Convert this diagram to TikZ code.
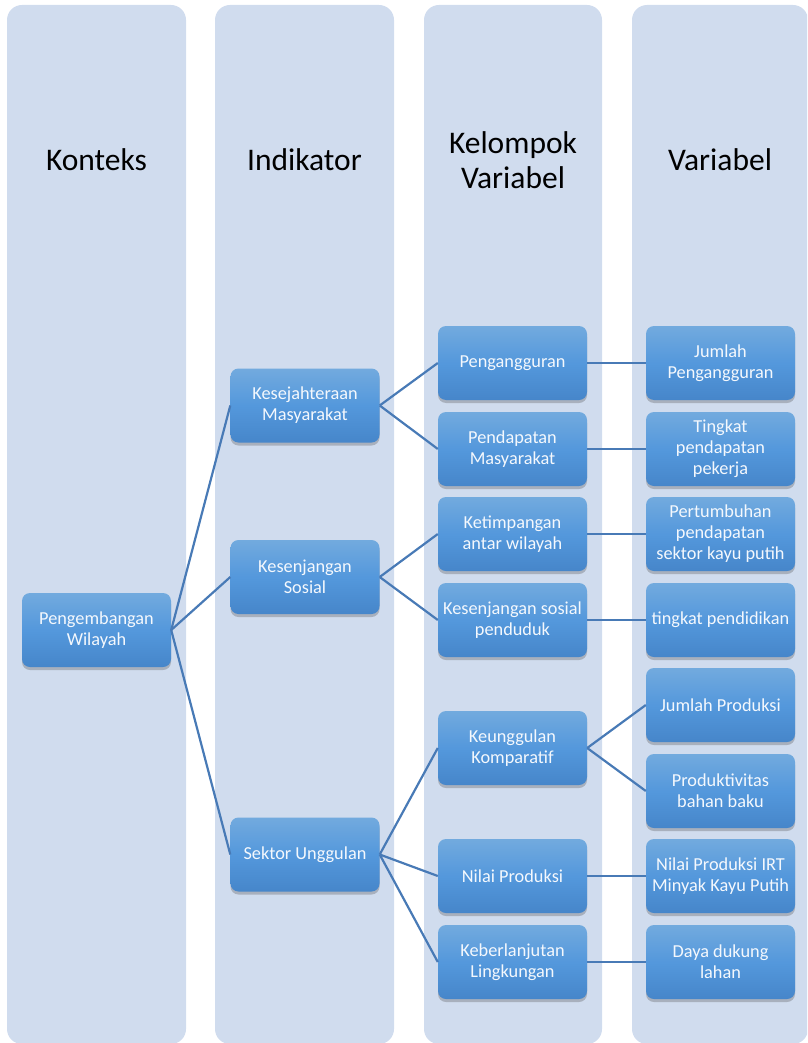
\documentclass[tikz,border=0pt]{standalone}
\usepackage{fontspec}
\setmainfont{Carlito}
\usetikzlibrary{shadows}
\definecolor{lanebg}{RGB}{208,220,238}
\definecolor{boxtop}{RGB}{114,170,222}
\definecolor{boxmid}{RGB}{84,152,220}
\definecolor{boxbot}{RGB}{70,134,202}
\definecolor{linkcol}{RGB}{72,122,182}
\definecolor{boxtext}{RGB}{244,248,253}
\tikzset{
  lane/.style={fill=lanebg, draw=none, rounded corners=15pt},
  head/.style={font=\fontsize{31.5}{35}\selectfont, text=black, align=center},
  item/.style={rectangle, rounded corners=8pt, minimum width=149pt, minimum height=74pt,
    inner sep=1pt, top color=boxtop, bottom color=boxbot, middle color=boxmid,
    text=boxtext, align=center, font=\fontsize{18.3}{21}\selectfont,
    drop shadow={shadow xshift=0pt, shadow yshift=-3pt, opacity=0.3, fill=black!70}},
  link/.style={draw=linkcol, line width=2.2pt}
}
\begin{document}
\begin{tikzpicture}[x=1pt,y=-1pt]
\useasboundingbox (0,0) rectangle (807,1043);
% lanes
\begin{scope}
\clip (0,0) rectangle (807,1043);
\fill[lane] (7,5) rectangle (186,1044);
\fill[lane] (215,5) rectangle (394,1044);
\fill[lane] (424,5) rectangle (602,1044);
\fill[lane] (632,5) rectangle (808,1044);
\end{scope}
% headings
\node[head] (h1) at (96.5,160) {Konteks};
\node[head] (h2) at (304.5,160) {Indikator};
\node[head] (h3) at (513,160) {Kelompok\\Variabel};
\node[head] (h4) at (720,160) {Variabel};
% context
\node[item] (pw) at (96.5,630) {Pengembangan\\Wilayah};
% indicators
\node[item] (km) at (305,405.5) {Kesejahteraan\\Masyarakat};
\node[item] (ks) at (305,577) {Kesenjangan\\Sosial};
\node[item] (su) at (305,854.5) {Sektor Unggulan};
% variable groups
\node[item] (pg) at (512.5,363) {Pengangguran};
\node[item] (pm) at (512.5,449) {Pendapatan\\Masyarakat};
\node[item] (ka) at (512.5,534) {Ketimpangan\\antar wilayah};
\node[item] (kp) at (512.5,620) {Kesenjangan sosial\\penduduk};
\node[item] (kk) at (512.5,748) {Keunggulan\\Komparatif};
\node[item] (np) at (512.5,876) {Nilai Produksi};
\node[item] (kl) at (512.5,962) {Keberlanjutan\\Lingkungan};
% variables
\node[item] (jp) at (720.5,363) {Jumlah\\Pengangguran};
\node[item] (tp) at (720.5,449) {Tingkat\\pendapatan\\pekerja};
\node[item] (pp) at (720.5,534) {Pertumbuhan\\pendapatan\\sektor kayu putih};
\node[item] (td) at (720.5,620) {tingkat pendidikan};
\node[item] (jpr) at (720.5,705) {Jumlah Produksi};
\node[item] (pb) at (720.5,791) {Produktivitas\\bahan baku};
\node[item] (ni) at (720.5,876) {Nilai Produksi IRT\\Minyak Kayu Putih};
\node[item] (dd) at (720.5,962) {Daya dukung\\lahan};
% connectors
\draw[link] (pw.east) -- (km.west);
\draw[link] (pw.east) -- (ks.west);
\draw[link] (pw.east) -- (su.west);
\draw[link] (km.east) -- (pg.west);
\draw[link] (km.east) -- (pm.west);
\draw[link] (ks.east) -- (ka.west);
\draw[link] (ks.east) -- (kp.west);
\draw[link] (su.east) -- (kk.west);
\draw[link] (su.east) -- (np.west);
\draw[link] (su.east) -- (kl.west);
\draw[link] (pg.east) -- (jp.west);
\draw[link] (pm.east) -- (tp.west);
\draw[link] (ka.east) -- (pp.west);
\draw[link] (kp.east) -- (td.west);
\draw[link] (kk.east) -- (jpr.west);
\draw[link] (kk.east) -- (pb.west);
\draw[link] (np.east) -- (ni.west);
\draw[link] (kl.east) -- (dd.west);
\end{tikzpicture}
\end{document}
